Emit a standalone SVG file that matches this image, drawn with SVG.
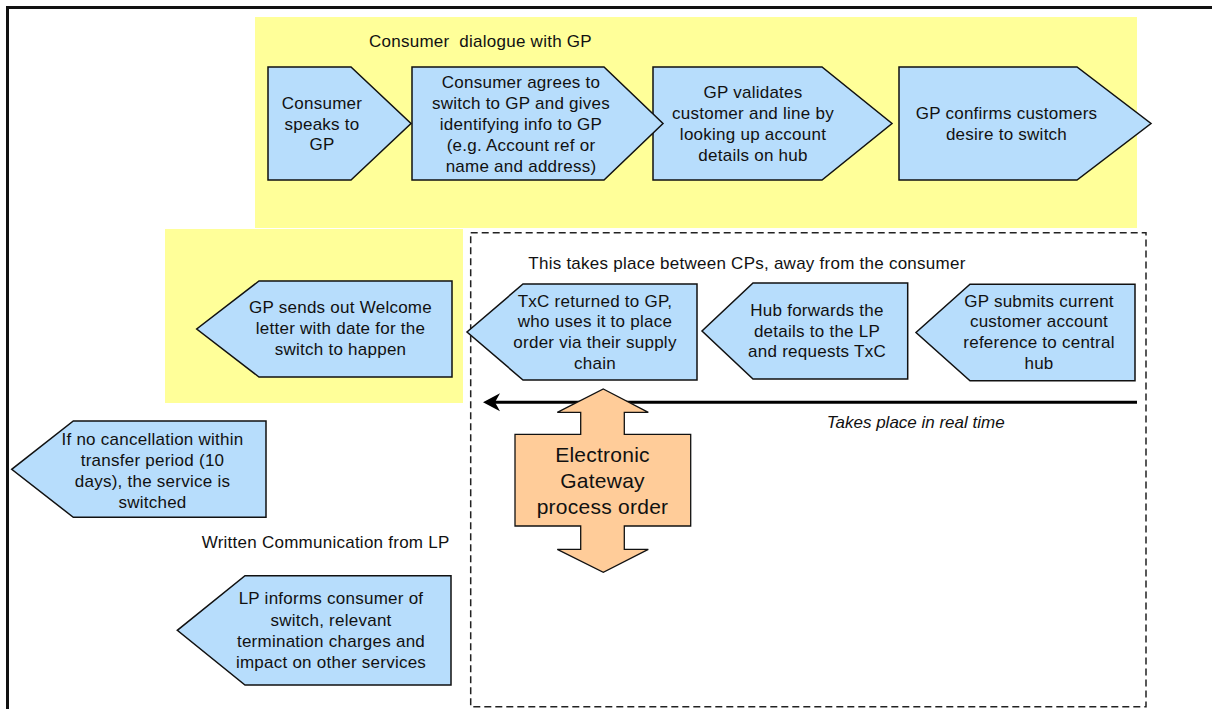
<svg xmlns="http://www.w3.org/2000/svg" width="1212" height="709" viewBox="0 0 1212 709">
  <defs>
    <style>
      .zone { fill: #FFFF99; stroke: none; }
      .step { fill: #B7DDFC; stroke: #111; stroke-width: 1.5; stroke-linejoin: miter; }
      .gate { fill: #FFCC99; stroke: #111; stroke-width: 1.3; }
      .txt { font-family: "Liberation Sans", Arial, sans-serif; font-size: 17px; letter-spacing: 0.25px; fill: #111; }
      .mid { text-anchor: middle; }
      .big { font-size: 21px; }
      .ital { font-style: italic; letter-spacing: 0; }
      .frame { fill: none; stroke: #111; stroke-width: 3; }
      .scope { fill: none; stroke: #222; stroke-width: 1.5; stroke-dasharray: 7 4; }
      .flow { fill: none; stroke: #000; stroke-width: 3; }
    </style>
    <marker id="head" viewBox="0 0 20 20" refX="7" refY="10" markerUnits="userSpaceOnUse" markerWidth="20" markerHeight="20" orient="auto">
      <path d="M19,10 L2,1 L7,10 L2,19 Z" fill="#000"/>
    </marker>
  </defs>

  <!-- outer frame -->
  <rect class="frame" x="7.5" y="7.5" width="1300" height="800"/>

  <!-- highlighted zones -->
  <rect class="zone" x="255" y="17" width="882" height="211"/>
  <rect class="zone" x="165" y="229" width="298" height="174"/>

  <!-- dashed region for the inter-CP exchange -->
  <rect class="scope" x="470.7" y="232.7" width="675.3" height="474"/>

  <!-- section labels -->
  <text class="txt" x="369" y="47.3" style="white-space: pre">Consumer  dialogue with GP</text>
  <text class="txt" x="528.3" y="269.3">This takes place between CPs, away from the consumer</text>
  <text class="txt" x="201.7" y="547.7">Written Communication from LP</text>
  <text class="txt ital" x="826.7" y="428.3">Takes place in real time</text>

  <!-- connectors -->
  <g id="connectors">
    <line class="flow" x1="1137" y1="402.3" x2="495" y2="402.3" marker-end="url(#head)"/>
  </g>

  <!-- consumer dialogue steps -->
  <g id="speaks">
    <path class="step" d="M268,67 H351 L411,123.5 L351,180 H268 Z"/>
    <text class="txt mid" x="322" y="109">Consumer</text>
    <text class="txt mid" x="322" y="129.5">speaks to</text>
    <text class="txt mid" x="322" y="150">GP</text>
  </g>
  <g id="validates">
    <path class="step" d="M653,67 H822 L892,123.5 L822,180 H653 Z"/>
    <text class="txt mid" x="753" y="98.3">GP validates</text>
    <text class="txt mid" x="753" y="119.3">customer and line by</text>
    <text class="txt mid" x="753" y="140">looking up account</text>
    <text class="txt mid" x="753" y="161">details on hub</text>
  </g>
  <g id="agrees">
    <path class="step" d="M412,67 H604 L663,123.5 L604,180 H412 Z"/>
    <text class="txt mid" x="521" y="88.3">Consumer agrees to</text>
    <text class="txt mid" x="521" y="109.3">switch to GP and gives</text>
    <text class="txt mid" x="521" y="130">identifying info to GP</text>
    <text class="txt mid" x="521" y="151">(e.g. Account ref or</text>
    <text class="txt mid" x="521" y="171.7">name and address)</text>
  </g>
  <g id="confirms">
    <path class="step" d="M899,67 H1077 L1151,123.5 L1077,180 H899 Z"/>
    <text class="txt mid" x="1006.5" y="119">GP confirms customers</text>
    <text class="txt mid" x="1006.5" y="139.5">desire to switch</text>
  </g>

  <!-- inter-CP steps -->
  <g id="welcome">
    <path class="step" d="M452,281 V377 H259 L196.7,329 L259,281 Z"/>
    <text class="txt mid" x="340.5" y="313.3">GP sends out Welcome</text>
    <text class="txt mid" x="340.5" y="334">letter with date for the</text>
    <text class="txt mid" x="340.5" y="355">switch to happen</text>
  </g>
  <g id="txc-returned">
    <path class="step" d="M697,284 V380 H523 L467,332 L523,284 Z"/>
    <text class="txt mid" x="595" y="306.7">TxC returned to GP,</text>
    <text class="txt mid" x="595" y="327.3">who uses it to place</text>
    <text class="txt mid" x="595" y="348.3">order via their supply</text>
    <text class="txt mid" x="595" y="369.3">chain</text>
  </g>
  <g id="hub-forwards">
    <path class="step" d="M907.7,283 V379 H753 L702,331 L753,283 Z"/>
    <text class="txt mid" x="817" y="316">Hub forwards the</text>
    <text class="txt mid" x="817" y="336.7">details to the LP</text>
    <text class="txt mid" x="817" y="357.3">and requests TxC</text>
  </g>
  <g id="gp-submits">
    <path class="step" d="M1135,284.3 V380.7 H970 L916,332.5 L970,284.3 Z"/>
    <text class="txt mid" x="1039" y="306.7">GP submits current</text>
    <text class="txt mid" x="1039" y="327.3">customer account</text>
    <text class="txt mid" x="1039" y="348.3">reference to central</text>
    <text class="txt mid" x="1039" y="369.3">hub</text>
  </g>

  <!-- electronic gateway -->
  <g id="gateway">
    <path class="gate" d="M603.3,389 L648.3,412.3 H624.3 V434.3 H690.7 V526 H624.3 V549.3 H648.3 L603.3,572.3 L557.3,549.3 H580.7 V526 H515 V434.3 H580.7 V412.3 H557.3 Z"/>
    <text class="txt big mid" x="602.5" y="462.3">Electronic</text>
    <text class="txt big mid" x="602.5" y="488.3">Gateway</text>
    <text class="txt big mid" x="602.5" y="514.3">process order</text>
  </g>

  <!-- outcome and LP letter -->
  <g id="switched">
    <path class="step" d="M266,421 V517.3 H73.3 L11.7,469.3 L73.3,421 Z"/>
    <text class="txt mid" x="152.5" y="445">If no cancellation within</text>
    <text class="txt mid" x="152.5" y="465.7">transfer period (10</text>
    <text class="txt mid" x="152.5" y="486.7">days), the service is</text>
    <text class="txt mid" x="152.5" y="507.7">switched</text>
  </g>
  <g id="lp-informs">
    <path class="step" d="M451,575.7 V685 H245 L177.3,630.3 L245,575.7 Z"/>
    <text class="txt mid" x="331" y="604">LP informs consumer of</text>
    <text class="txt mid" x="331" y="625.7">switch, relevant</text>
    <text class="txt mid" x="331" y="646.7">termination charges and</text>
    <text class="txt mid" x="331" y="667.7">impact on other services</text>
  </g>
</svg>
